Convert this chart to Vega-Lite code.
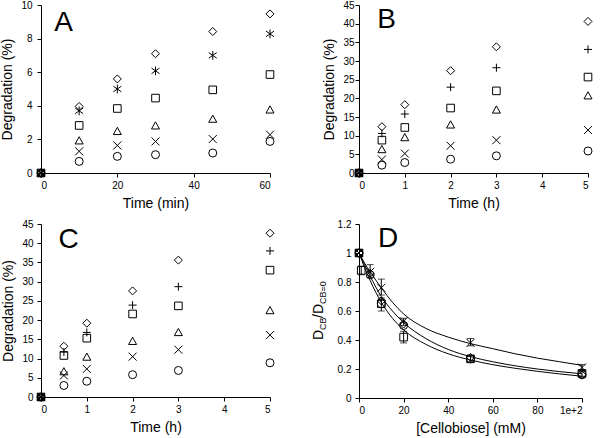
{
  "$schema": "https://vega.github.io/schema/vega-lite/v6.json",
  "padding": {"left": 0, "top": 0, "right": 5, "bottom": 5},
  "config": {
    "view": {"stroke": null},
    "font": "Liberation Sans",
    "axis": {"grid": false, "domainColor": "black", "tickColor": "black", "labelColor": "black", "titleColor": "black", "labelFontSize": 10, "titleFontSize": 14, "titleFontWeight": "normal", "tickSize": 4, "labelFont": "Liberation Sans", "titleFont": "Liberation Sans", "labelPadding": 3, "titlePadding": 6, "labelOverlap": false, "tickCount": 20, "format": "~g"},
    "axisY": {"titlePadding": 6},
    "point": {"filled": false, "stroke": "black", "strokeWidth": 1, "opacity": 1, "size": 64}
  },
  "datasets": {
    "pts": [
      {"panel":"A","series":"diamond","x":0,"y":0},{"panel":"A","series":"diamond","x":10,"y":3.96},{"panel":"A","series":"diamond","x":20,"y":5.6},{"panel":"A","series":"diamond","x":30,"y":7.1},{"panel":"A","series":"diamond","x":45,"y":8.42},{"panel":"A","series":"diamond","x":60,"y":9.47},
      {"panel":"A","series":"asterisk","x":0,"y":0},{"panel":"A","series":"asterisk","x":10,"y":3.7},{"panel":"A","series":"asterisk","x":20,"y":5.0},{"panel":"A","series":"asterisk","x":30,"y":6.08},{"panel":"A","series":"asterisk","x":45,"y":7.0},{"panel":"A","series":"asterisk","x":60,"y":8.28},
      {"panel":"A","series":"square","x":0,"y":0},{"panel":"A","series":"square","x":10,"y":2.83},{"panel":"A","series":"square","x":20,"y":3.84},{"panel":"A","series":"square","x":30,"y":4.46},{"panel":"A","series":"square","x":45,"y":4.95},{"panel":"A","series":"square","x":60,"y":5.86},
      {"panel":"A","series":"triangle","x":0,"y":0},{"panel":"A","series":"triangle","x":10,"y":1.92},{"panel":"A","series":"triangle","x":20,"y":2.48},{"panel":"A","series":"triangle","x":30,"y":2.81},{"panel":"A","series":"triangle","x":45,"y":3.21},{"panel":"A","series":"triangle","x":60,"y":3.76},
      {"panel":"A","series":"cross","x":0,"y":0},{"panel":"A","series":"cross","x":10,"y":1.29},{"panel":"A","series":"cross","x":20,"y":1.64},{"panel":"A","series":"cross","x":30,"y":1.88},{"panel":"A","series":"cross","x":45,"y":2.02},{"panel":"A","series":"cross","x":60,"y":2.28},
      {"panel":"A","series":"circle","x":0,"y":0},{"panel":"A","series":"circle","x":10,"y":0.69},{"panel":"A","series":"circle","x":20,"y":0.99},{"panel":"A","series":"circle","x":30,"y":1.09},{"panel":"A","series":"circle","x":45,"y":1.19},{"panel":"A","series":"circle","x":60,"y":1.88},

      {"panel":"B","series":"diamond","x":0,"y":0},{"panel":"B","series":"diamond","x":0.5,"y":12.4},{"panel":"B","series":"diamond","x":1,"y":18.3},{"panel":"B","series":"diamond","x":2,"y":27.4},{"panel":"B","series":"diamond","x":3,"y":33.8},{"panel":"B","series":"diamond","x":5,"y":40.6},
      {"panel":"B","series":"plus","x":0,"y":0},{"panel":"B","series":"plus","x":0.5,"y":10.6},{"panel":"B","series":"plus","x":1,"y":15.8},{"panel":"B","series":"plus","x":2,"y":23.0},{"panel":"B","series":"plus","x":3,"y":28.2},{"panel":"B","series":"plus","x":5,"y":33.1},
      {"panel":"B","series":"square","x":0,"y":0},{"panel":"B","series":"square","x":0.5,"y":8.8},{"panel":"B","series":"square","x":1,"y":12.2},{"panel":"B","series":"square","x":2,"y":17.4},{"panel":"B","series":"square","x":3,"y":22.0},{"panel":"B","series":"square","x":5,"y":25.7},
      {"panel":"B","series":"triangle","x":0,"y":0},{"panel":"B","series":"triangle","x":0.5,"y":6.3},{"panel":"B","series":"triangle","x":1,"y":9.5},{"panel":"B","series":"triangle","x":2,"y":12.9},{"panel":"B","series":"triangle","x":3,"y":16.9},{"panel":"B","series":"triangle","x":5,"y":20.7},
      {"panel":"B","series":"cross","x":0,"y":0},{"panel":"B","series":"cross","x":0.5,"y":3.6},{"panel":"B","series":"cross","x":1,"y":5.2},{"panel":"B","series":"cross","x":2,"y":7.3},{"panel":"B","series":"cross","x":3,"y":8.8},{"panel":"B","series":"cross","x":5,"y":11.5},
      {"panel":"B","series":"circle","x":0,"y":0},{"panel":"B","series":"circle","x":0.5,"y":2.1},{"panel":"B","series":"circle","x":1,"y":2.8},{"panel":"B","series":"circle","x":2,"y":3.7},{"panel":"B","series":"circle","x":3,"y":4.6},{"panel":"B","series":"circle","x":5,"y":5.9},

      {"panel":"C","series":"diamond","x":0,"y":0},{"panel":"C","series":"diamond","x":0.5,"y":13.2},{"panel":"C","series":"diamond","x":1,"y":19.2},{"panel":"C","series":"diamond","x":2,"y":27.6},{"panel":"C","series":"diamond","x":3,"y":35.6},{"panel":"C","series":"diamond","x":5,"y":42.6},
      {"panel":"C","series":"plus","x":0,"y":0},{"panel":"C","series":"plus","x":0.5,"y":11.7},{"panel":"C","series":"plus","x":1,"y":16.8},{"panel":"C","series":"plus","x":2,"y":23.9},{"panel":"C","series":"plus","x":3,"y":28.7},{"panel":"C","series":"plus","x":5,"y":38.0},
      {"panel":"C","series":"square","x":0,"y":0},{"panel":"C","series":"square","x":0.5,"y":10.8},{"panel":"C","series":"square","x":1,"y":15.3},{"panel":"C","series":"square","x":2,"y":21.6},{"panel":"C","series":"square","x":3,"y":23.7},{"panel":"C","series":"square","x":5,"y":33.0},
      {"panel":"C","series":"triangle","x":0,"y":0},{"panel":"C","series":"triangle","x":0.5,"y":6.6},{"panel":"C","series":"triangle","x":1,"y":10.4},{"panel":"C","series":"triangle","x":2,"y":14.5},{"panel":"C","series":"triangle","x":3,"y":16.8},{"panel":"C","series":"triangle","x":5,"y":22.5},
      {"panel":"C","series":"cross","x":0,"y":0},{"panel":"C","series":"cross","x":0.5,"y":5.6},{"panel":"C","series":"cross","x":1,"y":7.3},{"panel":"C","series":"cross","x":2,"y":10.5},{"panel":"C","series":"cross","x":3,"y":12.3},{"panel":"C","series":"cross","x":5,"y":16.1},
      {"panel":"C","series":"circle","x":0,"y":0},{"panel":"C","series":"circle","x":0.5,"y":3.0},{"panel":"C","series":"circle","x":1,"y":4.1},{"panel":"C","series":"circle","x":2,"y":5.8},{"panel":"C","series":"circle","x":3,"y":6.9},{"panel":"C","series":"circle","x":5,"y":8.9},

      {"panel":"D","series":"cross","x":0,"y":1.0},{"panel":"D","series":"cross","x":5,"y":0.87},{"panel":"D","series":"cross","x":10,"y":0.76},{"panel":"D","series":"cross","x":20,"y":0.53},{"panel":"D","series":"cross","x":50,"y":0.38},{"panel":"D","series":"cross","x":100,"y":0.21},
      {"panel":"D","series":"square","x":0,"y":1.0},{"panel":"D","series":"square","x":1,"y":0.88},{"panel":"D","series":"square","x":10,"y":0.65},{"panel":"D","series":"square","x":20,"y":0.42},{"panel":"D","series":"square","x":50,"y":0.27},{"panel":"D","series":"square","x":100,"y":0.17},
      {"panel":"D","series":"diamond","x":0,"y":1.0},{"panel":"D","series":"diamond","x":5,"y":0.86},{"panel":"D","series":"diamond","x":10,"y":0.67},{"panel":"D","series":"diamond","x":20,"y":0.51},{"panel":"D","series":"diamond","x":50,"y":0.28},{"panel":"D","series":"diamond","x":100,"y":0.16},
      {"panel":"D","series":"circle","x":0,"y":1.0},{"panel":"D","series":"circle","x":5,"y":0.85},{"panel":"D","series":"circle","x":10,"y":0.65},{"panel":"D","series":"circle","x":20,"y":0.5},{"panel":"D","series":"circle","x":50,"y":0.27},{"panel":"D","series":"circle","x":100,"y":0.16}
    ],
    "err": [
      {"x":5,"lo":0.83,"hi":0.92},{"x":10,"lo":0.71,"hi":0.82},{"x":20,"lo":0.5,"hi":0.55},{"x":50,"lo":0.36,"hi":0.41},{"x":100,"lo":0.19,"hi":0.23},
      {"x":1,"lo":0.85,"hi":0.91},{"x":10,"lo":0.6,"hi":0.69},{"x":20,"lo":0.38,"hi":0.46},{"x":50,"lo":0.25,"hi":0.29},{"x":100,"lo":0.15,"hi":0.19}
    ],
    "curves": [
      {"curve":"top","x":0,"y":1.0},{"curve":"top","x":2.5,"y":0.93},{"curve":"top","x":5,"y":0.87},{"curve":"top","x":10,"y":0.76},{"curve":"top","x":15,"y":0.66},{"curve":"top","x":20,"y":0.58},{"curve":"top","x":30,"y":0.48},{"curve":"top","x":40,"y":0.42},{"curve":"top","x":50,"y":0.375},{"curve":"top","x":60,"y":0.34},{"curve":"top","x":70,"y":0.305},{"curve":"top","x":80,"y":0.275},{"curve":"top","x":90,"y":0.25},{"curve":"top","x":100,"y":0.225},
      {"curve":"mid","x":0,"y":1.0},{"curve":"mid","x":2.5,"y":0.92},{"curve":"mid","x":5,"y":0.84},{"curve":"mid","x":10,"y":0.7},{"curve":"mid","x":15,"y":0.6},{"curve":"mid","x":20,"y":0.52},{"curve":"mid","x":30,"y":0.41},{"curve":"mid","x":40,"y":0.335},{"curve":"mid","x":50,"y":0.285},{"curve":"mid","x":60,"y":0.25},{"curve":"mid","x":70,"y":0.222},{"curve":"mid","x":80,"y":0.2},{"curve":"mid","x":90,"y":0.182},{"curve":"mid","x":100,"y":0.167},
      {"curve":"low","x":0,"y":1.0},{"curve":"low","x":2.5,"y":0.9},{"curve":"low","x":5,"y":0.81},{"curve":"low","x":10,"y":0.66},{"curve":"low","x":15,"y":0.55},{"curve":"low","x":20,"y":0.47},{"curve":"low","x":30,"y":0.37},{"curve":"low","x":40,"y":0.305},{"curve":"low","x":50,"y":0.262},{"curve":"low","x":60,"y":0.23},{"curve":"low","x":70,"y":0.205},{"curve":"low","x":80,"y":0.184},{"curve":"low","x":90,"y":0.166},{"curve":"low","x":100,"y":0.15}
    ]
  },
  "columns": 2,
  "spacing": {"row": 51, "column": 89},
  "bounds": "flush",
  "concat": [
    {
      "width": 229, "height": 168,
      "layer": [
        {
          "data": {"name": "pts"},
          "transform": [{"filter": "datum.panel === 'A'"}],
          "mark": {"type": "point"},
          "encoding": {
            "x": {"field": "x", "type": "quantitative", "scale": {"domain": [0, 60]}, "axis": {"values": [0, 20, 40, 60], "title": "Time (min)", "tickCount": 20, "format": "~g"}},
            "y": {"field": "y", "type": "quantitative", "scale": {"domain": [0, 10]}, "axis": {"values": [0, 2, 4, 6, 8, 10], "title": "Degradation (%)", "labelPadding": 5, "tickCount": 20, "format": "~g"}},
            "shape": {"field": "series", "type": "nominal", "legend": null,
              "scale": {"domain": ["diamond", "asterisk", "plus", "square", "triangle", "cross", "circle"],
                "range": ["M0,-1L1,0L0,1L-1,0Z", "M-1,-0.7L1,0.7M-1,0.7L1,-0.7M0,-1.1L0,1.1", "M-1,0L1,0M0,-1L0,1", "M-0.95,-0.95L0.95,-0.95L0.95,0.95L-0.95,0.95Z", "M0,-1L1,0.8L-1,0.8Z", "M-1,-1L1,1M-1,1L1,-1", "circle"]}}
          }
        },
        {
          "data": {"values": [{"label": "A"}]},
          "mark": {"type": "text", "fontSize": 28, "align": "left", "baseline": "top", "font": "Liberation Sans", "color": "black"},
          "encoding": {"x": {"datum": 3.5}, "y": {"datum": 9.75}, "text": {"field": "label"}}
        }
      ]
    },
    {
      "width": 229, "height": 168,
      "layer": [
        {
          "data": {"name": "pts"},
          "transform": [{"filter": "datum.panel === 'B'"}],
          "mark": {"type": "point"},
          "encoding": {
            "x": {"field": "x", "type": "quantitative", "scale": {"domain": [0, 5]}, "axis": {"values": [0, 1, 2, 3, 4, 5], "title": "Time (h)", "tickCount": 20, "format": "~g"}},
            "y": {"field": "y", "type": "quantitative", "scale": {"domain": [0, 45]}, "axis": {"values": [0, 5, 10, 15, 20, 25, 30, 35, 40, 45], "title": "Degradation (%)", "labelPadding": 1, "tickCount": 20, "format": "~g"}},
            "shape": {"field": "series", "type": "nominal", "legend": null,
              "scale": {"domain": ["diamond", "asterisk", "plus", "square", "triangle", "cross", "circle"],
                "range": ["M0,-1L1,0L0,1L-1,0Z", "M-1,-0.7L1,0.7M-1,0.7L1,-0.7M0,-1.1L0,1.1", "M-1,0L1,0M0,-1L0,1", "M-0.95,-0.95L0.95,-0.95L0.95,0.95L-0.95,0.95Z", "M0,-1L1,0.8L-1,0.8Z", "M-1,-1L1,1M-1,1L1,-1", "circle"]}}
          }
        },
        {
          "data": {"values": [{"label": "B"}]},
          "mark": {"type": "text", "fontSize": 28, "align": "left", "baseline": "top", "font": "Liberation Sans", "color": "black"},
          "encoding": {"x": {"datum": 0.4}, "y": {"datum": 44.8}, "text": {"field": "label"}}
        }
      ]
    },
    {
      "width": 229, "height": 173,
      "layer": [
        {
          "data": {"name": "pts"},
          "transform": [{"filter": "datum.panel === 'C'"}],
          "mark": {"type": "point"},
          "encoding": {
            "x": {"field": "x", "type": "quantitative", "scale": {"domain": [0, 5]}, "axis": {"values": [0, 1, 2, 3, 4, 5], "title": "Time (h)", "tickCount": 20, "format": "~g"}},
            "y": {"field": "y", "type": "quantitative", "scale": {"domain": [0, 45]}, "axis": {"values": [0, 5, 10, 15, 20, 25, 30, 35, 40, 45], "title": "Degradation (%)", "labelPadding": 4, "tickCount": 20, "format": "~g"}},
            "shape": {"field": "series", "type": "nominal", "legend": null,
              "scale": {"domain": ["diamond", "asterisk", "plus", "square", "triangle", "cross", "circle"],
                "range": ["M0,-1L1,0L0,1L-1,0Z", "M-1,-0.7L1,0.7M-1,0.7L1,-0.7M0,-1.1L0,1.1", "M-1,0L1,0M0,-1L0,1", "M-0.95,-0.95L0.95,-0.95L0.95,0.95L-0.95,0.95Z", "M0,-1L1,0.8L-1,0.8Z", "M-1,-1L1,1M-1,1L1,-1", "circle"]}}
          }
        },
        {
          "data": {"values": [{"label": "C"}]},
          "mark": {"type": "text", "fontSize": 28, "align": "left", "baseline": "top", "font": "Liberation Sans", "color": "black"},
          "encoding": {"x": {"datum": 0.38}, "y": {"datum": 44.5}, "text": {"field": "label"}}
        }
      ]
    },
    {
      "width": 223, "height": 174,
      "layer": [
        {
          "data": {"name": "curves"},
          "mark": {"type": "line", "interpolate": "monotone", "color": "black", "strokeWidth": 1},
          "encoding": {
            "x": {"field": "x", "type": "quantitative", "scale": {"domain": [0, 100]}, "axis": {"values": [0, 20, 40, 60, 80, 100], "title": "[Cellobiose] (mM)", "tickCount": 20, "format": "~g"}},
            "y": {"field": "y", "type": "quantitative", "scale": {"domain": [0, 1.2]}, "axis": {"values": [0, 0.2, 0.4, 0.6, 0.8, 1, 1.2], "format": "~g", "title": null, "labelPadding": 4, "tickCount": 20}},
            "detail": {"field": "curve"}
          }
        },
        {
          "data": {"name": "err"},
          "mark": {"type": "errorbar", "ticks": {"size": 7, "color": "black"}, "color": "black"},
          "encoding": {
            "x": {"field": "x", "type": "quantitative"},
            "y": {"field": "lo", "type": "quantitative"},
            "y2": {"field": "hi"}
          }
        },
        {
          "data": {"name": "pts"},
          "transform": [{"filter": "datum.panel === 'D'"}],
          "mark": {"type": "point"},
          "encoding": {
            "x": {"field": "x", "type": "quantitative"},
            "y": {"field": "y", "type": "quantitative"},
            "shape": {"field": "series", "type": "nominal", "legend": null,
              "scale": {"domain": ["diamond", "asterisk", "plus", "square", "triangle", "cross", "circle"],
                "range": ["M0,-1L1,0L0,1L-1,0Z", "M-1,-0.7L1,0.7M-1,0.7L1,-0.7M0,-1.1L0,1.1", "M-1,0L1,0M0,-1L0,1", "M-0.95,-0.95L0.95,-0.95L0.95,0.95L-0.95,0.95Z", "M0,-1L1,0.8L-1,0.8Z", "M-1,-1L1,1M-1,1L1,-1", "circle"]}}
          }
        },
        {
          "data": {"values": [{"label": "D"}]},
          "mark": {"type": "text", "fontSize": 28, "align": "left", "baseline": "top", "font": "Liberation Sans", "color": "black"},
          "encoding": {"x": {"datum": 8.5}, "y": {"datum": 1.19}, "text": {"field": "label"}}
        },
        {
          "data": {"values": [{"t": "D"}]},
          "mark": {"type": "text", "angle": 270, "align": "left", "baseline": "alphabetic", "font": "Liberation Sans", "fontSize": 14, "color": "black", "dx": 0, "dy": 0},
          "encoding": {"x": {"datum": -16}, "y": {"datum": 0.4}, "text": {"field": "t"}}
        },
        {
          "data": {"values": [{"t": "CB"}]},
          "mark": {"type": "text", "angle": 270, "align": "left", "baseline": "alphabetic", "font": "Liberation Sans", "fontSize": 9, "color": "black", "dx": 10, "dy": 3},
          "encoding": {"x": {"datum": -16}, "y": {"datum": 0.4}, "text": {"field": "t"}}
        },
        {
          "data": {"values": [{"t": "/D"}]},
          "mark": {"type": "text", "angle": 270, "align": "left", "baseline": "alphabetic", "font": "Liberation Sans", "fontSize": 14, "color": "black", "dx": 22, "dy": 0},
          "encoding": {"x": {"datum": -16}, "y": {"datum": 0.4}, "text": {"field": "t"}}
        },
        {
          "data": {"values": [{"t": "CB=0"}]},
          "mark": {"type": "text", "angle": 270, "align": "left", "baseline": "alphabetic", "font": "Liberation Sans", "fontSize": 9, "color": "black", "dx": 36, "dy": 3},
          "encoding": {"x": {"datum": -16}, "y": {"datum": 0.4}, "text": {"field": "t"}}
        }
      ]
    }
  ]
}
